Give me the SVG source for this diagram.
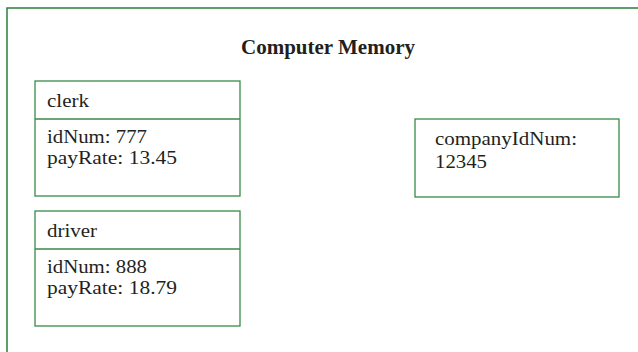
<svg xmlns="http://www.w3.org/2000/svg" width="638" height="352" viewBox="0 0 638 352">
  <style>
    .frame { fill: none; stroke: #2a7f3a; stroke-width: 1.5; }
    .box { fill: #ffffff; stroke: #3a8a48; stroke-width: 1.3; }
    .div { stroke: #3a8a48; stroke-width: 1.3; }
    .t { font-family: "Liberation Serif", "Times New Roman", serif; font-size: 18px; fill: #231f20; }
    .title { font-family: "Liberation Serif", "Times New Roman", serif; font-size: 21px; font-weight: bold; fill: #231f20; }
  </style>
  <rect width="638" height="352" fill="#ffffff"/>
  <g id="memory">
    <rect class="frame" x="7" y="8" width="700" height="400"/>
    <text class="title" x="328" y="54" text-anchor="middle">Computer Memory</text>
  </g>
  <g id="clerk">
    <rect class="box" x="35" y="81" width="205" height="115"/>
    <line class="div" x1="35" y1="119" x2="240" y2="119"/>
    <text class="t" x="47" y="107" textLength="42" lengthAdjust="spacingAndGlyphs">clerk</text>
    <text class="t" x="47" y="143" textLength="100" lengthAdjust="spacingAndGlyphs">idNum: 777</text>
    <text class="t" x="47" y="164" textLength="130" lengthAdjust="spacingAndGlyphs">payRate: 13.45</text>
  </g>
  <g id="driver">
    <rect class="box" x="35" y="211" width="205" height="115"/>
    <line class="div" x1="35" y1="249" x2="240" y2="249"/>
    <text class="t" x="47" y="237" textLength="50" lengthAdjust="spacingAndGlyphs">driver</text>
    <text class="t" x="47" y="273" textLength="100" lengthAdjust="spacingAndGlyphs">idNum: 888</text>
    <text class="t" x="47" y="294" textLength="130" lengthAdjust="spacingAndGlyphs">payRate: 18.79</text>
  </g>
  <g id="company">
    <rect class="box" x="415" y="119" width="204" height="78"/>
    <text class="t" x="435" y="145" textLength="142" lengthAdjust="spacingAndGlyphs">companyIdNum:</text>
    <text class="t" x="435" y="168" textLength="52" lengthAdjust="spacingAndGlyphs">12345</text>
  </g>
  <g id="connectors"></g>
</svg>
